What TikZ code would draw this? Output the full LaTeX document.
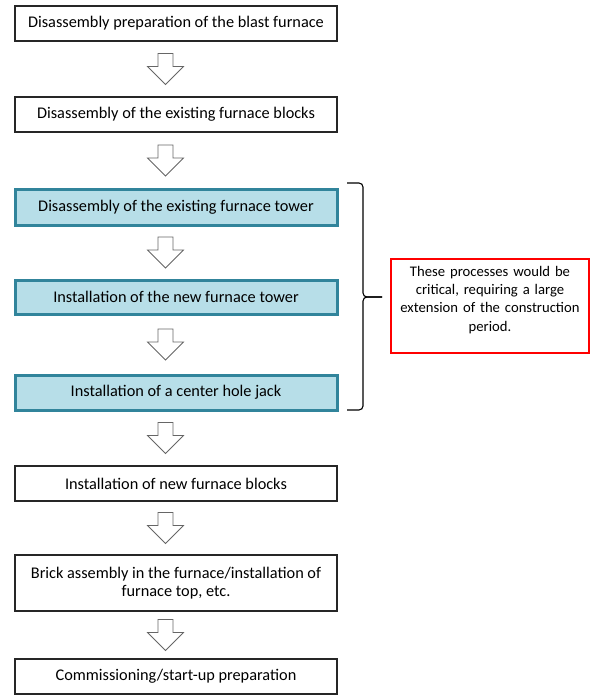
\documentclass[tikz,border=0pt]{standalone}
\usepackage{fontspec}
\setmainfont{Carlito}
\usepackage{tikz}
\usetikzlibrary{positioning,calc,shapes}
\definecolor{towerfill}{HTML}{B7DEE8}
\definecolor{towerline}{HTML}{31849B}

\begin{document}
\begin{tikzpicture}[node distance=56pt,
                    font=\fontsize{16.3pt}{18.3pt}\selectfont]
  \tikzstyle{stage}=[draw=black!85, line width=1.2pt, fill=white, outer sep=0pt,
                     minimum width=322pt, minimum height=35pt, align=center]
  \tikzstyle{tower}=[stage, draw=towerline, line width=3pt, fill=towerfill,
                     minimum height=36pt]
  \tikzstyle{notebox}=[draw=red, line width=1.6pt, minimum width=198pt,
                       minimum height=94pt, text width=194pt, align=center,
                       inner sep=0pt, outer sep=0pt,
                       font=\fontsize{14.67pt}{18.3pt}\selectfont]
  \tikzstyle{bracel}=[black, line width=1.1pt, rounded corners=4pt]
  \tikzset{pics/downarr/.style={code={
    \draw[black!60, line width=0.8pt, fill=white]
      (-7.5pt,15.5pt) -- (7.5pt,15.5pt) -- (7.5pt,2.5pt) -- (18pt,2.5pt)
      -- (0pt,-15.5pt) -- (-18pt,2.5pt) -- (-7.5pt,2.5pt) -- cycle;}}}

  \useasboundingbox (0,0) rectangle (590pt,-695pt);

  \node[stage] (b1) at (176pt,-23.5pt) {Disassembly preparation of the blast furnace};
  \node[stage] (b2) [below=56pt of b1] {Disassembly of the existing furnace blocks};
  \node[tower] (b3) [below=57pt of b2] {Disassembly of the existing furnace tower};
  \node[tower, minimum height=34pt] (b4) [below=55pt of b3] {Installation of the new furnace tower};
  \node[tower, minimum height=35pt] (b5) [below=61pt of b4] {Installation of a center hole jack};
  \node[stage] (b6) [below=56pt of b5] {Installation of new furnace blocks};
  \node[stage, minimum height=56pt] (b7) [below=54pt of b6]
       {Brick assembly in the furnace/installation of\\furnace top, etc.};
  \node[stage] (b8) [below=48pt of b7] {Commissioning/start-up preparation};

  % block arrows between the stages
  \foreach \up/\dn in {b1/b2, b2/b3, b3/b4, b4/b5, b5/b6, b6/b7, b7/b8}
    \pic at ($(\up.south)!0.5!(\dn.north)+(-10.5pt,0)$) {downarr};

  % brace over the critical steps
  \coordinate (brtop) at ($(b3.north east)+(10pt,6pt)$);
  \coordinate (brbot) at ($(b5.south east)+(10pt,0pt)$);
  \coordinate (brtip) at ($(b4.east)+(45pt,0pt)$);
  \draw[bracel] (brtop) -- ++(16pt,0pt) |- (brtip);
  \draw[bracel] (brbot) -- ++(16pt,0pt) |- (brtip);

  \node[notebox, right=9pt of brtip, yshift=-9pt] (note)
       {These processes would be\\critical, requiring a large\\extension of the construction\\period.\\[-9pt]\strut};

\end{tikzpicture}
\end{document}
